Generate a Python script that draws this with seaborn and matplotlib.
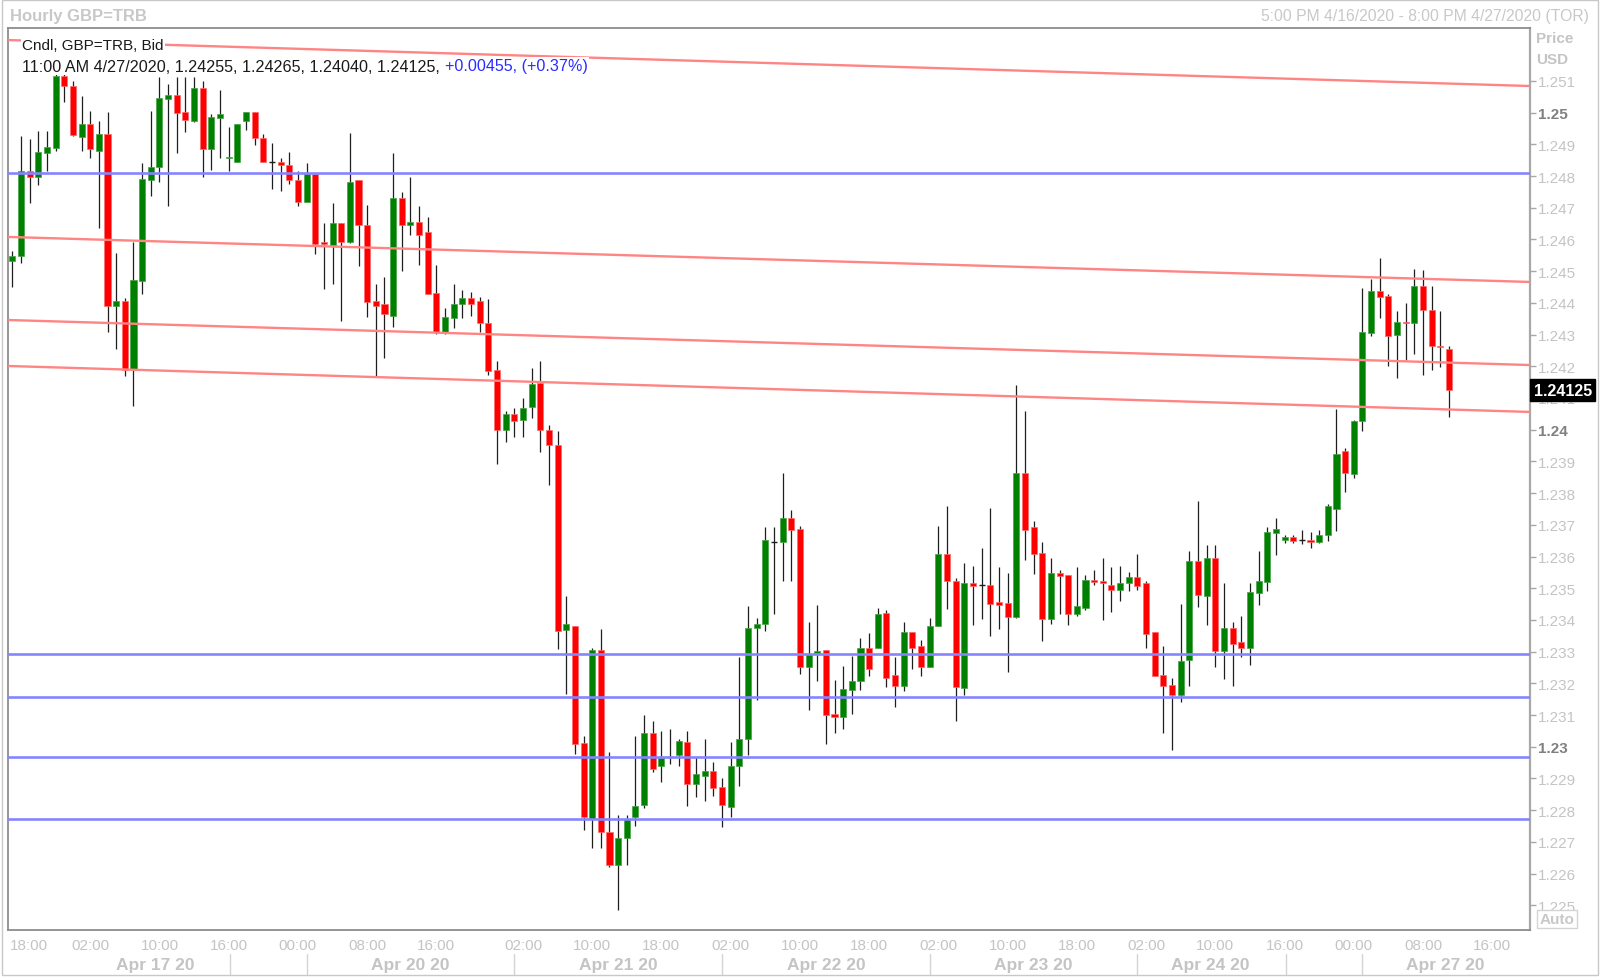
import numpy as np
import matplotlib
matplotlib.use('Agg')
import matplotlib.pyplot as plt
import matplotlib.transforms as mtransforms
from matplotlib.patches import Rectangle
import seaborn as sns

# hourly GBP=TRB bid candles
opens = [1.24533, 1.24549, 1.24817, 1.24796, 1.24873, 1.24888, 1.25115, 1.25085, 1.24924, 1.24964,
         1.24880, 1.24933, 1.24389, 1.24407, 1.24191, 1.24470, 1.24789, 1.24828, 1.25043, 1.25056,
         1.25001, 1.24975, 1.25077, 1.24885, 1.24983, 1.24856, 1.24843, 1.24975, 1.25001, 1.24919,
         1.24843, 1.24843, 1.24835, 1.24789, 1.24719, 1.24807, 1.24591, 1.24583, 1.24652, 1.24593,
         1.24788, 1.24647, 1.24405, 1.24397, 1.24360, 1.24730, 1.24646, 1.24654, 1.24623, 1.24430,
         1.24309, 1.24351, 1.24397, 1.24416, 1.24407, 1.24338, 1.24189, 1.23999, 1.24049, 1.24032,
         1.24072, 1.24146, 1.23999, 1.23953, 1.23368, 1.23380, 1.23012, 1.22771, 1.23306, 1.22732,
         1.22628, 1.22712, 1.22778, 1.22817, 1.23042, 1.22940, 1.22967, 1.22973, 1.23016, 1.22884,
         1.22909, 1.22924, 1.22872, 1.22809, 1.22940, 1.23026, 1.23374, 1.23387, 1.23645, 1.23645,
         1.23721, 1.23687, 1.23253, 1.23296, 1.23306, 1.23103, 1.23095, 1.23180, 1.23206, 1.23313,
         1.23313, 1.23422, 1.23226, 1.23192, 1.23363, 1.23317, 1.23253, 1.23380, 1.23608, 1.23524,
         1.23185, 1.23516, 1.23511, 1.23511, 1.23457, 1.23452, 1.23410, 1.23865, 1.23692, 1.23611,
         1.23403, 1.23547, 1.23541, 1.23418, 1.23439, 1.23526, 1.23524, 1.23510, 1.23494, 1.23516,
         1.23536, 1.23518, 1.23361, 1.23226, 1.23196, 1.23163, 1.23274, 1.23587, 1.23476, 1.23595,
         1.23303, 1.23376, 1.23329, 1.23311, 1.23485, 1.23521, 1.23674, 1.23653, 1.23662, 1.23652,
         1.23653, 1.23645, 1.23669, 1.23750, 1.23932, 1.23861, 1.24026, 1.24305, 1.24437, 1.24421,
         1.24299, 1.24341, 1.24336, 1.24452, 1.24378, 1.24265, 1.24255]
highs = [1.24565, 1.24925, 1.24917, 1.24941, 1.24941, 1.25125, 1.25128, 1.25101, 1.25054, 1.25006,
         1.24973, 1.25001, 1.24557, 1.24415, 1.24593, 1.24840, 1.25006, 1.25112, 1.25091, 1.25112,
         1.25112, 1.25112, 1.25101, 1.24996, 1.25072, 1.24956, 1.24964, 1.25001, 1.25001, 1.24933,
         1.24904, 1.24856, 1.24875, 1.24817, 1.24841, 1.24807, 1.24652, 1.24715, 1.24652, 1.24936,
         1.24788, 1.24709, 1.24458, 1.24481, 1.24872, 1.24751, 1.24798, 1.24707, 1.24670, 1.24520,
         1.24383, 1.24459, 1.24440, 1.24433, 1.24420, 1.24411, 1.24218, 1.24059, 1.24068, 1.24101,
         1.24196, 1.24218, 1.24016, 1.23996, 1.23475, 1.23380, 1.23034, 1.23312, 1.23371, 1.22982,
         1.22784, 1.22784, 1.23034, 1.23100, 1.23080, 1.23051, 1.23055, 1.23025, 1.23051, 1.22967,
         1.23026, 1.22953, 1.22900, 1.23016, 1.23282, 1.23443, 1.23405, 1.23692, 1.23692, 1.23863,
         1.23747, 1.23697, 1.23392, 1.23448, 1.23306, 1.23211, 1.23256, 1.23287, 1.23343, 1.23359,
         1.23437, 1.23432, 1.23282, 1.23392, 1.23363, 1.23338, 1.23406, 1.23697, 1.23760, 1.23532,
         1.23578, 1.23571, 1.23626, 1.23752, 1.23566, 1.23548, 1.24141, 1.24060, 1.23713, 1.23647,
         1.23595, 1.23557, 1.23541, 1.23566, 1.23541, 1.23557, 1.23595, 1.23568, 1.23571, 1.23550,
         1.23608, 1.23524, 1.23363, 1.23317, 1.23217, 1.23450, 1.23618, 1.23776, 1.23637, 1.23637,
         1.23516, 1.23395, 1.23411, 1.23518, 1.23618, 1.23692, 1.23721, 1.23669, 1.23669, 1.23683,
         1.23678, 1.23683, 1.23766, 1.24064, 1.23942, 1.24031, 1.24446, 1.24474, 1.24542, 1.24428,
         1.24373, 1.24399, 1.24507, 1.24504, 1.24453, 1.24373, 1.24265]
lows = [1.24449, 1.24526, 1.24715, 1.24772, 1.24817, 1.24880, 1.25035, 1.24925, 1.24880, 1.24857,
        1.24635, 1.24309, 1.24255, 1.24170, 1.24076, 1.24428, 1.24736, 1.24780, 1.24705, 1.24873,
        1.24940, 1.24970, 1.24796, 1.24820, 1.24857, 1.24817, 1.24843, 1.24945, 1.24899, 1.24843,
        1.24759, 1.24754, 1.24775, 1.24705, 1.24719, 1.24554, 1.24444, 1.24458, 1.24344, 1.24589,
        1.24515, 1.24354, 1.24170, 1.24225, 1.24323, 1.24501, 1.24614, 1.24520, 1.24428, 1.24301,
        1.24301, 1.24322, 1.24351, 1.24359, 1.24309, 1.24172, 1.23892, 1.23960, 1.23977, 1.23977,
        1.24036, 1.23931, 1.23827, 1.23308, 1.23165, 1.22977, 1.22738, 1.22680, 1.22680, 1.22621,
        1.22485, 1.22628, 1.22751, 1.22808, 1.22921, 1.22888, 1.22947, 1.22940, 1.22813, 1.22843,
        1.22830, 1.22846, 1.22746, 1.22779, 1.22875, 1.22975, 1.23148, 1.23364, 1.23418, 1.23524,
        1.23524, 1.23229, 1.23116, 1.23206, 1.23010, 1.23043, 1.23056, 1.23103, 1.23179, 1.23224,
        1.23310, 1.23190, 1.23124, 1.23175, 1.23245, 1.23224, 1.23253, 1.23380, 1.23434, 1.23080,
        1.23164, 1.23385, 1.23403, 1.23350, 1.23370, 1.23237, 1.23405, 1.23590, 1.23545, 1.23334,
        1.23387, 1.23418, 1.23385, 1.23411, 1.23432, 1.23510, 1.23401, 1.23424, 1.23461, 1.23492,
        1.23494, 1.23313, 1.23222, 1.23043, 1.22990, 1.23140, 1.23192, 1.23440, 1.23385, 1.23250,
        1.23213, 1.23192, 1.23284, 1.23259, 1.23448, 1.23490, 1.23605, 1.23642, 1.23642, 1.23641,
        1.23627, 1.23642, 1.23650, 1.23680, 1.23803, 1.23848, 1.23997, 1.24294, 1.24353, 1.24202,
        1.24162, 1.24220, 1.24239, 1.24173, 1.24187, 1.24199, 1.24040]
closes = [1.24549, 1.24817, 1.24796, 1.24875, 1.24891, 1.25115, 1.25085, 1.24930, 1.24964, 1.24885,
          1.24933, 1.24389, 1.24407, 1.24189, 1.24473, 1.24791, 1.24830, 1.25046, 1.25056, 1.24999,
          1.24977, 1.25077, 1.24885, 1.24985, 1.24996, 1.24858, 1.24964, 1.25001, 1.24919, 1.24843,
          1.24843, 1.24835, 1.24786, 1.24719, 1.24807, 1.24586, 1.24585, 1.24652, 1.24593, 1.24780,
          1.24646, 1.24404, 1.24389, 1.24365, 1.24730, 1.24646, 1.24654, 1.24615, 1.24428, 1.24309,
          1.24354, 1.24398, 1.24416, 1.24398, 1.24335, 1.24185, 1.23999, 1.24049, 1.24029, 1.24068,
          1.24144, 1.23999, 1.23953, 1.23364, 1.23386, 1.23010, 1.22778, 1.23306, 1.22732, 1.22628,
          1.22712, 1.22771, 1.22813, 1.23042, 1.22930, 1.22964, 1.22967, 1.23019, 1.22882, 1.22914,
          1.22924, 1.22870, 1.22816, 1.22940, 1.23026, 1.23376, 1.23387, 1.23653, 1.23645, 1.23721,
          1.23685, 1.23250, 1.23292, 1.23303, 1.23101, 1.23095, 1.23182, 1.23208, 1.23313, 1.23245,
          1.23418, 1.23216, 1.23192, 1.23363, 1.23313, 1.23253, 1.23382, 1.23608, 1.23522, 1.23190,
          1.23518, 1.23506, 1.23511, 1.23450, 1.23448, 1.23410, 1.23865, 1.23685, 1.23608, 1.23403,
          1.23548, 1.23539, 1.23418, 1.23443, 1.23526, 1.23521, 1.23515, 1.23494, 1.23516, 1.23536,
          1.23508, 1.23355, 1.23222, 1.23192, 1.23163, 1.23271, 1.23587, 1.23478, 1.23595, 1.23303,
          1.23376, 1.23324, 1.23311, 1.23487, 1.23524, 1.23676, 1.23687, 1.23662, 1.23650, 1.23652,
          1.23645, 1.23668, 1.23759, 1.23924, 1.23863, 1.24029, 1.24307, 1.24437, 1.24420, 1.24294,
          1.24341, 1.24336, 1.24452, 1.24376, 1.24263, 1.24260, 1.24125]

# drawn levels
support_levels = [1.24810, 1.23292, 1.23157, 1.22967, 1.22772]
trend_start = [1.25229, 1.24608, 1.24346, 1.24201]
trend_end = [1.25084, 1.24466, 1.24204, 1.24056]

# time axis (bar index of each label)
time_pos = [1, 9, 17, 25, 33, 41, 49, 59, 67, 75, 83, 91, 99, 107, 115, 123, 131, 139, 147, 155, 163, 171]
time_labels = ['18:00', '02:00', '10:00', '16:00', '00:00', '08:00', '16:00', '02:00', '10:00', '18:00',
               '02:00', '10:00', '18:00', '02:00', '10:00', '18:00', '02:00', '10:00', '16:00', '00:00',
               '08:00', '16:00']
day_sep = [25.1, 34, 58, 82, 106, 130, 147.2, 155.9]
day_pos = [16.5, 46, 70, 94, 118, 138.4, 165.6]
day_labels = ['Apr 17 20', 'Apr 20 20', 'Apr 21 20', 'Apr 22 20', 'Apr 23 20', 'Apr 24 20', 'Apr 27 20']

last_price = 1.24125

W, H = 1600, 978
XLIM = (-0.5, 175.36)
YLIM = (1.22422, 1.25267)
LIGHT = '#c4c4c4'

sns.set_theme(style='white')
plt.rcParams['font.family'] = ['Liberation Sans', 'DejaVu Sans']


def fy(py):
    return 1 - py / H


fig = plt.figure(figsize=(W / 100, H / 100), dpi=100, facecolor='white')
ax = fig.add_axes([8 / W, fy(931), (1530 - 8) / W, (931 - 29) / H])
ax.set_facecolor('white')

o = np.array(opens)
h = np.array(highs)
l = np.array(lows)
c = np.array(closes)
x = np.arange(len(o))
up = c > o
dn = c < o
flat = c == o

# candles
ax.vlines(x, l, h, color='#1e1e1e', lw=0.9, zorder=2)
ax.bar(x[up], np.maximum((c - o)[up], 0.00003), bottom=o[up], width=0.7,
       color='#008000', edgecolor='#46a346', linewidth=0.5, zorder=3)
ax.bar(x[dn], np.maximum((o - c)[dn], 0.00003), bottom=c[dn], width=0.7,
       color='#ff0000', edgecolor='#ff6a6a', linewidth=0.5, zorder=3)
ax.hlines(o[flat], x[flat] - 0.35, x[flat] + 0.35, color='#1e1e1e', lw=1.0, zorder=3)

# levels
for v in support_levels:
    ax.axhline(v, color='#8484ff', lw=1.9, zorder=4)
for s, e in zip(trend_start, trend_end):
    ax.plot(XLIM, [s, e], color='#ff8484', lw=1.7, zorder=4)

ax.set_xlim(*XLIM)
ax.set_ylim(*YLIM)

# right price axis
ax.yaxis.tick_right()
yt = np.round(np.arange(1.225, 1.2515, 0.001), 3)
ax.set_yticks(yt)
ax.set_yticklabels([f'{v:.3f}'.rstrip('0') for v in yt])
ax.tick_params(axis='y', which='major', direction='out', length=4, width=1,
               color='#a8a8a8', labelsize=11, labelcolor=LIGHT, pad=2)
for lab, v in zip(ax.get_yticklabels(), yt):
    if abs(v * 100 - round(v * 100)) < 1e-6:
        lab.set_fontweight('bold')
        lab.set_color('#808080')

# time axis; the first label is pushed inside the plot edge, as in the original
tr = mtransforms.blended_transform_factory(ax.transData, fig.transFigure)
ax.set_xticks(time_pos)
ax.set_xticklabels([''] + time_labels[1:])
ax.set_xticks(day_sep, minor=True)
ax.tick_params(axis='x', which='both', direction='out', length=4, width=1,
               color='#cccccc', labelsize=11, labelcolor=LIGHT, pad=2)
first = ax.get_xticklabels()[1]
ax.text(10 / W, fy(946), time_labels[0], transform=fig.transFigure, ha='left', va='center',
        fontsize=11, color=LIGHT, clip_on=False)
ax.grid(False)

for sp in ax.spines.values():
    sp.set_color('#8c8c8c')
    sp.set_linewidth(1.3)
    sp.set_visible(True)
ax.spines['right'].set_color('#a8a8a8')
ax.spines['right'].set_linewidth(1.6)

for p, lab in zip(day_pos, day_labels):
    ax.text(p, fy(966), lab, transform=tr, ha='center', va='center',
            fontsize=12.5, fontweight='bold', color=LIGHT, clip_on=False)
for s in day_sep:
    ax.plot([s, s], [fy(955), fy(975)], transform=tr, color='#d4d4d4',
            lw=1, clip_on=False)

# last price marker
ax.annotate(f'{last_price:.5f}', xy=(1, last_price), xycoords=('axes fraction', 'data'),
            xytext=(2.6, 0), textcoords='offset points', ha='left', va='center',
            fontsize=11.5, fontweight='bold', color='white', zorder=12,
            bbox=dict(boxstyle='square,pad=0.22', fc='black', ec='black'),
            annotation_clip=False)

# legend text at top-left of plot
box = dict(fc='white', ec='none', pad=1.0)
ax.text(22.5 / W, fy(46), 'Cndl, GBP=TRB, Bid', transform=fig.transFigure,
        fontsize=11, color='#1a1a1a', va='center', ha='left', bbox=box, zorder=10)
t2 = ax.text(22.5 / W, fy(67), '11:00 AM 4/27/2020, 1.24255, 1.24265, 1.24040, 1.24125, ',
             transform=fig.transFigure, fontsize=11.6, color='#1a1a1a', va='center',
             ha='left', bbox=box, zorder=10)
ax.annotate('+0.00455, (+0.37%)', xy=(1, 0.5), xycoords=t2, ha='left', va='center',
            fontsize=11.6, color='#2b2bff', bbox=box, zorder=10, annotation_clip=False)

# header texts
fig.text(10 / W, fy(16), 'Hourly GBP=TRB', fontsize=12, fontweight='bold', color='#c8c8c8',
         va='center', ha='left')
fig.text(1589 / W, fy(16), '5:00 PM 4/16/2020 - 8:00 PM 4/27/2020 (TOR)', fontsize=11.3,
         color='#c8c8c8', va='center', ha='right')
fig.text(1536 / W, fy(39), 'Price', fontsize=11, fontweight='bold', color=LIGHT, va='center')
fig.text(1536 / W, fy(60), 'USD', fontsize=11, fontweight='bold', color=LIGHT, va='center')
fig.text(1557 / W, fy(920), 'Auto', fontsize=11, fontweight='bold', color='#c8c8c8',
         va='center', ha='center',
         bbox=dict(boxstyle='square,pad=0.15', fc='white', ec='#d4d4d4', lw=1))

fig.add_artist(Rectangle((2 / W, fy(976)), (1598 - 2) / W, (976 - 1) / H,
                         transform=fig.transFigure, fill=False, ec='#c8c8c8', lw=1))

fig.savefig('out.png', dpi=100, facecolor='white')
